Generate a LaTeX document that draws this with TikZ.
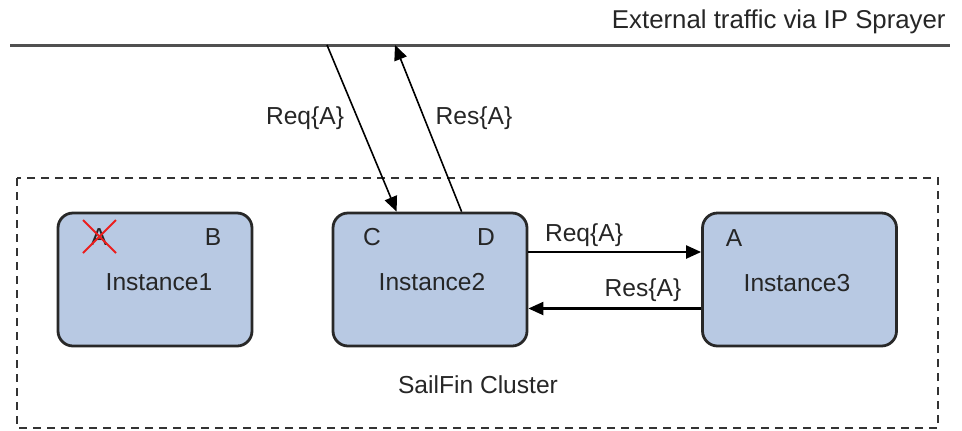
\documentclass[tikz,border=0pt]{standalone}
\usepackage{fontspec}
\setmainfont{Liberation Sans}
\usepackage{tikz}
\usetikzlibrary{arrows.meta,positioning,calc}
\usepackage{xcolor}
\definecolor{instblue}{RGB}{184,201,227}
\definecolor{instedge}{RGB}{40,40,40}
\definecolor{wiregray}{RGB}{80,80,80}
\definecolor{dropred}{RGB}{235,30,30}
\tikzset{
  inst/.style={draw=instedge,fill=instblue,rounded corners=7.5pt,
               line width=1.4pt,minimum width=97pt,minimum height=66.5pt,
               inner sep=0pt},
  txt/.style={font=\fontsize{12.3}{14}\selectfont,text=black!85,inner sep=0pt},
  msg/.style={-{Triangle[length=7.5pt,width=6.5pt]},line width=0.8pt},
  fwd/.style={msg,line width=1.1pt},
}

\begin{document}
\begin{tikzpicture}[x=0.5pt,y=-0.5pt]
    \useasboundingbox (0,0) rectangle (962,430);
    % external traffic line
    \draw[wiregray,line width=1.5pt] (10,45) coordinate (wl) -- (950,45) coordinate (wr);
    \node[txt,anchor=east,font=\fontsize{12.9}{14}\selectfont] (ext) at (946,22)
      {External traffic via IP Sprayer};
    % cluster
    \draw[dashed,dash pattern=on 4pt off 3pt,line width=0.8pt,black!80]
      (17,178) rectangle (938,428);
    \node[txt] (clu) at (478,385) {SailFin Cluster};
    % instances
    \node[inst] (i1) at (155,279.5) {};
    \node[inst] (i2) at (430,279.5) {};
    \node[inst] (i3) at (799.5,279.5) {};
    \node[txt] (n1) at (159,282) {Instance1};
    \node[txt] (n2) at (432,282) {Instance2};
    \node[txt] (n3) at (797,283) {Instance3};
    % session keys
    \node[txt] (k1a) at (99,237) {A};
    \node[txt] (k1b) at (213,237) {B};
    \node[txt] (k2c) at (372,237) {C};
    \node[txt] (k2d) at (486,237) {D};
    \node[txt] (k3a) at (734,238) {A};
    \draw[dropred,line width=0.9pt]
      ($(k1a.center)+(-16,-17)$) -- ($(k1a.center)+(17,16)$)
      ($(k1a.center)+(17,-17)$) -- ($(k1a.center)+(-16,16)$);
    % external request / response
    \coordinate (rqin) at (327,45);
    \coordinate (rsout) at (395,45);
    \draw[msg] (rqin) -- ($(i2.north west)+(65,0)$);
    \draw[msg] ($(i2.north west)+(130,0)$) -- (rsout);
    \node[txt] (lrq) at (305,118) {Req\{A\}};
    \node[txt] (lrs) at (474,118) {Res\{A\}};
    % forwarded request / response
    \draw[fwd] ($(i2.east)+(0,-27.5)$) -- ($(i3.west)+(0,-27.5)$);
    \draw[fwd] ($(i3.west)+(0,29)$) -- ($(i2.east)+(0,29)$);
    \node[txt] (lfq) at (584,235) {Req\{A\}};
    \node[txt] (lfs) at (643,290) {Res\{A\}};
  \end{tikzpicture}
\end{document}
